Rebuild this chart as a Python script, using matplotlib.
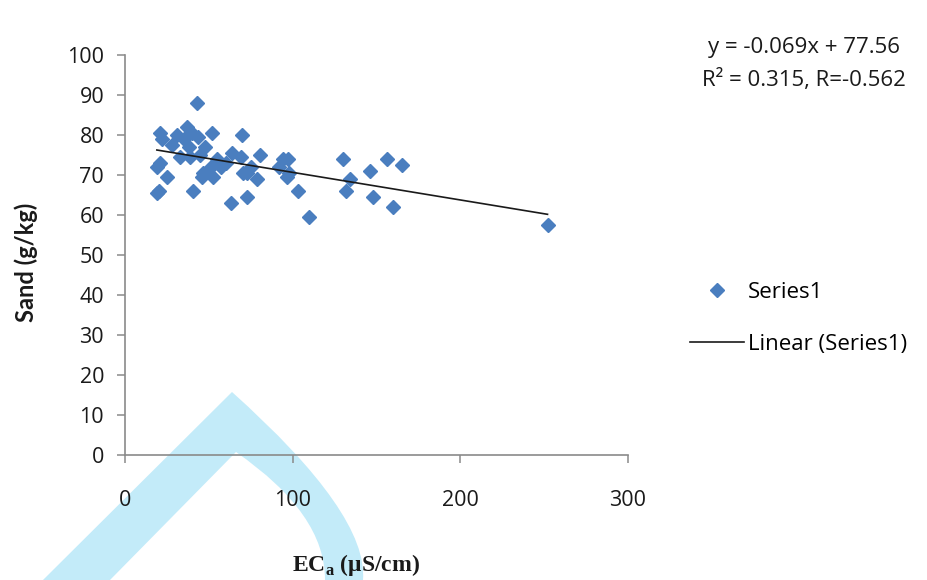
import numpy as np
import matplotlib
matplotlib.use("Agg")
import matplotlib.pyplot as plt
from matplotlib.patches import PathPatch
from matplotlib.path import Path
from matplotlib.lines import Line2D

plt.rcParams["mathtext.fontset"] = "custom"
plt.rcParams["mathtext.rm"] = "Liberation Serif"
plt.rcParams["mathtext.bf"] = "Liberation Serif:bold"

# ---- data ----
ec_values = [43, 21, 22, 37, 35, 40, 43.5, 52, 70, 28, 33, 39, 45, 21, 19, 25, 20, 19,
             40.5, 46, 46.5, 51, 52.5, 57, 64, 69, 80.5, 75, 73, 70.5, 79, 63, 73, 94,
             97, 92, 98, 96.5, 103, 110, 130, 134, 132, 146, 148, 156, 165, 160, 252,
             38, 48, 31, 55, 60]
sand_values = [88, 80.5, 79, 82, 79, 80.5, 79.5, 80.5, 80, 77.5, 74.5, 74.5, 75, 73, 72,
               69.5, 66, 65.5, 66, 69.5, 70.5, 72, 69.5, 72, 75.5, 74.5, 75, 72, 70.5,
               70.5, 69, 63, 64.5, 74, 74, 72, 70.5, 69.5, 66, 59.5, 74, 69, 66, 71,
               64.5, 74, 72.5, 62, 57.5, 77, 77, 80, 74, 73]
slope = -0.069
intercept = 77.56
x_ticks = [0, 100, 200, 300]
y_ticks = [0, 10, 20, 30, 40, 50, 60, 70, 80, 90, 100]
eq_line1 = "y = -0.069x + 77.56"
eq_line2 = "R\u00b2 = 0.315, R=-0.562"

W, H = 928, 580
fig = plt.figure(figsize=(W / 100, H / 100), dpi=100)
fig.patch.set_facecolor("white")

def fx(px):
    return px / W

def fy(py):
    return 1 - py / H

def fp(p):
    return (fx(p[0]), fy(p[1]))

# light-blue watermark stroke in the background
verts = [(43, 580), (232, 392), (368.5, 514), (363, 580), (325, 580),
         (325.5, 514), (236, 452), (110, 580), (43, 580)]
codes = [Path.MOVETO, Path.LINETO, Path.CURVE3, Path.CURVE3, Path.LINETO,
         Path.CURVE3, Path.CURVE3, Path.LINETO, Path.CLOSEPOLY]
fig.patches.append(PathPatch(Path([fp(v) for v in verts], codes),
                             transform=fig.transFigure, facecolor="#c3ebf9",
                             edgecolor="none", zorder=-5))

ax = fig.add_axes([fx(125), fy(455), fx(628) - fx(125), fy(55) - fy(455)])
ax.patch.set_facecolor("none")

blue = "#4a7ebf"
ax.plot(ec_values, sand_values, linestyle="none", marker="D", markersize=6.8,
        markerfacecolor=blue, markeredgecolor=blue, zorder=3)
xs = np.array([min(ec_values), max(ec_values)])
ax.plot(xs, slope * xs + intercept, color="#1a1a1a", linewidth=1.2, zorder=4)

ax.set_xlim(0, 300)
ax.set_ylim(0, 100)
ax.set_xticks(x_ticks)
ax.set_yticks(y_ticks)
for s in ["top", "right"]:
    ax.spines[s].set_visible(False)
for s in ["left", "bottom"]:
    ax.spines[s].set_color("#8a8a8a")
    ax.spines[s].set_linewidth(1.2)

tick_font = "Open Sans"
ax.tick_params(axis="both", direction="out", length=6, width=1.1, color="#8a8a8a",
               labelsize=15.5, labelcolor="#1a1a1a")
ax.tick_params(axis="y", pad=9)
ax.tick_params(axis="x", pad=19)
for lab in ax.get_xticklabels() + ax.get_yticklabels():
    lab.set_fontfamily(tick_font)

ax.set_ylabel("Sand (g/kg)", fontfamily="Lato", fontweight="bold", fontsize=17,
              color="#1a1a1a")
ax.yaxis.set_label_coords((26 - 125) / 503, (455 - 262) / 400)
ax.yaxis.label.set_va("center")
ax.set_xlabel(r"EC$_\mathbf{a}$ ($\mathbf{\mu}$S/cm)", fontfamily="Liberation Serif",
              fontweight="bold", fontsize=17, color="#1a1a1a")
ax.xaxis.set_label_coords((356 - 125) / 503, (455 - 565) / 400)
ax.xaxis.label.set_va("center")

fig.text(fx(804), fy(48), eq_line1, ha="center", va="center", fontfamily="Open Sans",
         fontsize=16, color="#1a1a1a")
fig.text(fx(804), fy(80), eq_line2, ha="center", va="center", fontfamily="Open Sans",
         fontsize=16, color="#1a1a1a")

handles = [Line2D([], [], linestyle="none", marker="D", markersize=6.8,
                  markerfacecolor=blue, markeredgecolor=blue),
           Line2D([], [], color="#1a1a1a", linewidth=1.2)]
fig.legend(handles, ["Series1", "Linear (Series1)"], loc="upper left",
           bbox_to_anchor=(fx(690), fy(282)), frameon=False, borderpad=0,
           borderaxespad=0, handlelength=2.45, handletextpad=0.15,
           labelspacing=1.38, prop={"family": "Open Sans", "size": 16})

fig.savefig("out.png", dpi=100)
